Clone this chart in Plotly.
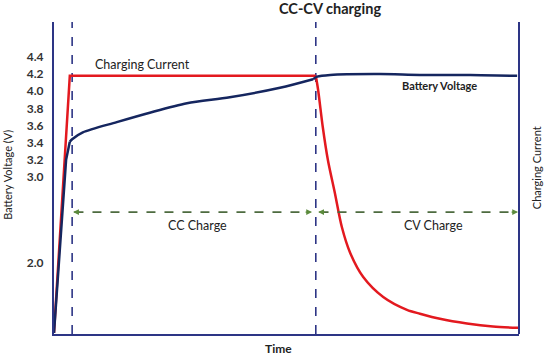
import plotly.graph_objects as go

# ---- data (time in arbitrary units 0..100, values on the voltage scale) ----
voltage_t = [0, 2.6, 3.4, 3.9, 6.2, 13.5, 20.6, 28.6, 37.8, 48.6, 55.7, 56.6, 59.4, 70.1, 78.7, 89.5, 99.6]
voltage_v = [1.18, 3.20, 3.41, 3.44, 3.52, 3.64, 3.75, 3.86, 3.93, 4.04, 4.14, 4.17, 4.19, 4.20, 4.19, 4.19, 4.18]

current_t = [0, 3.4, 56.3, 56.8, 57.8, 58.9, 60.4, 61.9, 63.7, 66.5, 70.8, 75.9, 78.7, 83.0, 88.8, 94.4, 99.8]
current_v = [1.18, 4.18, 4.18, 4.015, 3.583, 3.198, 2.813, 2.416, 2.113, 1.833, 1.60, 1.45, 1.405, 1.345, 1.29, 1.255, 1.24]

tick_vals = [2.0, 3.0, 3.2, 3.4, 3.6, 3.8, 4.0, 4.2, 4.4]
tick_text = ["2.0", "3.0", "3.2", "3.4", "3.6", "3.8", "4.0", "4.2", "4.4"]

cc_start = 3.9
cv_start = 56.3
t_end = 100
phase_y = 2.59

FONT = "Lato"
NAVY = "#2d3585"
GREEN = "#4d6b3f"
RED = "#e3191f"
BLUE = "#15265f"

fig = go.Figure()
# current: linear ramp + flat, then smooth decay (same series, split at the corner)
fig.add_trace(go.Scatter(x=current_t[:3], y=current_v[:3], mode="lines",
                         line=dict(color=RED, width=2.5)))
fig.add_trace(go.Scatter(x=current_t[2:], y=current_v[2:], mode="lines",
                         line=dict(color=RED, width=2.5, shape="spline", smoothing=0.8)))
# voltage: linear ramp to knee, then smooth
fig.add_trace(go.Scatter(x=voltage_t[:3], y=voltage_v[:3], mode="lines",
                         line=dict(color=BLUE, width=2.5)))
fig.add_trace(go.Scatter(x=voltage_t[2:11], y=voltage_v[2:11], mode="lines",
                         line=dict(color=BLUE, width=2.5, shape="spline", smoothing=0.8)))
fig.add_trace(go.Scatter(x=voltage_t[10:], y=voltage_v[10:], mode="lines",
                         line=dict(color=BLUE, width=2.5, shape="spline", smoothing=0.8)))

# phase boundaries
for xv in (cc_start, cv_start):
    fig.add_shape(type="line", xref="x", yref="paper", x0=xv, x1=xv, y0=0, y1=1,
                  line=dict(color=NAVY, width=1.6, dash="dash"), layer="below")
# right axis line
fig.add_shape(type="line", xref="paper", yref="paper", x0=1, x1=1, y0=0, y1=1,
              line=dict(color=NAVY, width=2))

# phase arrows
gap = 0.5
for a, b in ((cc_start, cv_start - 0.8), (cv_start + 0.3, t_end - 0.2)):
    fig.add_shape(type="line", xref="x", yref="y", x0=a + gap, x1=b - gap, y0=phase_y, y1=phase_y,
                  line=dict(color=GREEN, width=1.6, dash="dash"))
    fig.add_annotation(x=a + 0.2, y=phase_y, ax=8, ay=0, text="", showarrow=True,
                       arrowhead=2, arrowsize=0.9, arrowwidth=1.3, arrowcolor="#5b8a3c")
    fig.add_annotation(x=b, y=phase_y, ax=-8, ay=0, text="", showarrow=True,
                       arrowhead=2, arrowsize=0.9, arrowwidth=1.3, arrowcolor="#5b8a3c")

txt = dict(family=FONT, color="#222222")
C = dict(showarrow=False, xanchor="center", yanchor="middle")
fig.add_annotation(x=30.8, y=2.43, text="CC Charge", font=dict(txt, size=12.5), **C)
fig.add_annotation(x=81.7, y=2.43, text="CV Charge", font=dict(txt, size=12.5), **C)
fig.add_annotation(x=8.4, y=4.31, text="Charging Current", showarrow=False, xanchor="left",
                   yanchor="middle", font=dict(txt, size=12.5))
fig.add_annotation(x=83.0, y=4.07, text="Battery Voltage", font=dict(txt, size=11, weight="bold"), **C)
fig.add_annotation(xref="paper", yref="paper", x=0.594, y=1.042, text="CC-CV charging",
                   font=dict(txt, size=14.5, weight="bold"), **C)
fig.add_annotation(xref="paper", yref="paper", x=0.482, y=-0.045, text="Time",
                   font=dict(txt, size=12, weight="bold"), **C)
fig.add_annotation(xref="paper", yref="paper", x=-0.099, y=0.51, text="Battery Voltage (V)",
                   textangle=-90, font=dict(txt, size=11), **C)
fig.add_annotation(xref="paper", yref="paper", x=1.037, y=0.532, text="Charging Current",
                   textangle=-90, font=dict(txt, size=11), **C)

fig.update_layout(
    width=547, height=359,
    margin=dict(l=54, r=28, t=22, b=25),
    paper_bgcolor="white", plot_bgcolor="white",
    showlegend=False,
    xaxis=dict(range=[0, t_end], showgrid=False, zeroline=False, showticklabels=False,
               showline=True, linecolor=NAVY, linewidth=2, ticks=""),
    yaxis=dict(range=[1.168, 4.808], showgrid=False, zeroline=False,
               tickvals=tick_vals, ticktext=tick_text, ticks="", ticklabelstandoff=6,
               tickfont=dict(family=FONT, size=12, color="#333333", weight="bold"),
               showline=True, linecolor=NAVY, linewidth=2),
)

fig.write_html("out.html")
